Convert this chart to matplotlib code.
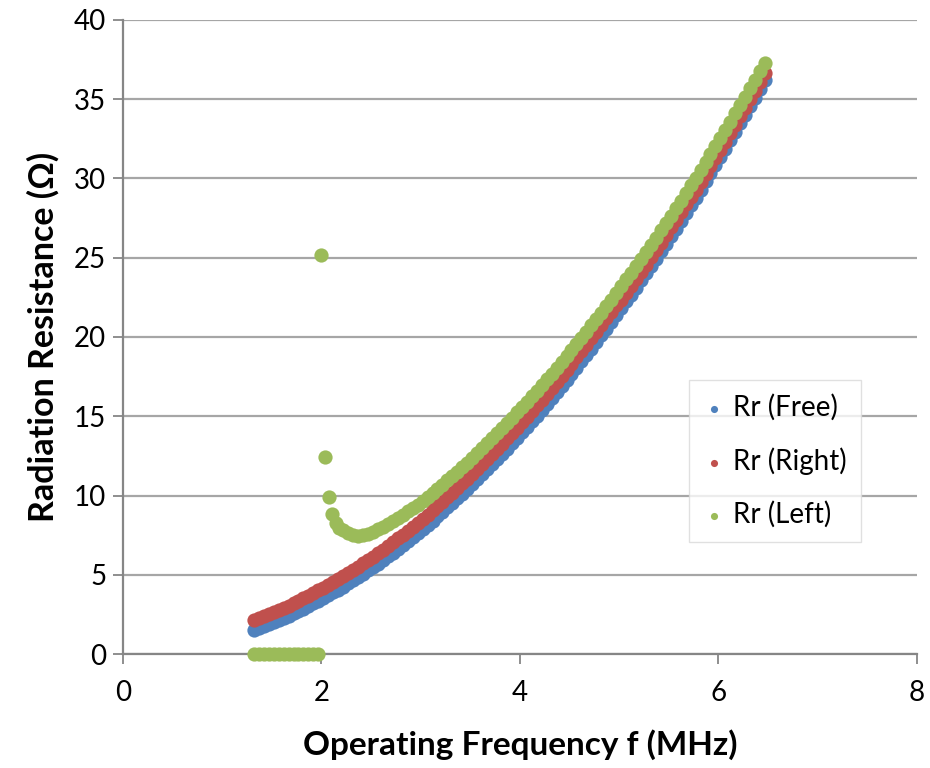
import numpy as np
import matplotlib
matplotlib.use("Agg")
import matplotlib.pyplot as plt

BLUE  = "#4F81BD"
RED   = "#C0504D"
GREEN = "#9BBB59"
GRID  = "#A6A6A6"
AXIS  = "#868686"
FONT  = "Lato"

# sampling grid of the sweep (MHz)
freq = np.round(np.arange(1.32, 6.48, 0.05), 2)

rr_free = [
    1.51, 1.62, 1.74, 1.87, 2.00, 2.13, 2.27, 2.41, 2.56, 2.71,
    2.87, 3.03, 3.19, 3.36, 3.53, 3.71, 3.89, 4.07, 4.26, 4.46,
    4.66, 4.86, 5.07, 5.28, 5.49, 5.71, 5.94, 6.17, 6.40, 6.64,
    6.88, 7.13, 7.38, 7.63, 7.89, 8.15, 8.42, 8.69, 8.97, 9.25,
    9.53, 9.82, 10.12, 10.42, 10.72, 11.02, 11.34, 11.65, 11.97, 12.29,
    12.62, 12.96, 13.29, 13.63, 13.98, 14.33, 14.68, 15.04, 15.40, 15.77,
    16.14, 16.52, 16.90, 17.28, 17.67, 18.07, 18.46, 18.87, 19.27, 19.68,
    20.10, 20.52, 20.94, 21.37, 21.80, 22.24, 22.68, 23.12, 23.57, 24.02,
    24.48, 24.94, 25.41, 25.88, 26.36, 26.84, 27.32, 27.81, 28.30, 28.80,
    29.30, 29.81, 30.32, 30.83, 31.35, 31.87, 32.40, 32.93, 33.47, 34.01,
    34.55, 35.10, 35.65, 36.21,
]

rr_right = [
    2.16, 2.27, 2.39, 2.52, 2.65, 2.78, 2.92, 3.06, 3.21, 3.36,
    3.52, 3.68, 3.84, 4.01, 4.18, 4.36, 4.54, 4.72, 4.91, 5.11,
    5.31, 5.51, 5.72, 5.93, 6.14, 6.36, 6.59, 6.82, 7.05, 7.29,
    7.53, 7.78, 8.03, 8.28, 8.54, 8.80, 9.07, 9.34, 9.62, 9.90,
    10.18, 10.47, 10.77, 11.07, 11.37, 11.67, 11.99, 12.30, 12.62, 12.94,
    13.27, 13.61, 13.94, 14.28, 14.63, 14.98, 15.33, 15.69, 16.05, 16.42,
    16.79, 17.17, 17.55, 17.93, 18.32, 18.72, 19.11, 19.52, 19.92, 20.33,
    20.75, 21.17, 21.59, 22.02, 22.35, 22.79, 23.23, 23.67, 24.12, 24.57,
    25.03, 25.49, 25.96, 26.43, 26.91, 27.39, 27.87, 28.36, 28.85, 29.25,
    29.75, 30.26, 30.77, 31.28, 31.80, 32.32, 32.85, 33.38, 33.92, 34.46,
    35.00, 35.55, 36.10, 36.66,
]

# Left: zero below ~2 MHz, spike near 2 MHz, then the normal branch
rr_left_zero = [0, 0, 0, 0, 0, 0, 0, 0, 0, 0, 0, 0, 0, 0]
f_left_jump  = [2.00, 2.035, 2.075, 2.11, 2.145, 2.18]
rr_left_jump = [25.2, 12.45, 9.93, 8.83, 8.24, 7.98]
rr_left = [
    7.80, 7.62, 7.52, 7.47, 7.48, 7.56, 7.68,
    7.86, 8.04, 8.22, 8.40, 8.59, 8.78, 9.00, 9.22, 9.43, 9.66,
    9.90, 10.15, 10.41, 10.68, 10.95, 11.22, 11.50, 11.79, 12.08, 12.37,
    12.67, 12.98, 13.29, 13.60, 13.92, 14.24, 14.58, 14.90, 15.24, 15.58,
    15.92, 16.26, 16.61, 16.96, 17.32, 17.68, 18.05, 18.42, 18.79, 19.17,
    19.56, 19.94, 20.34, 20.73, 21.13, 21.54, 21.95, 22.36, 22.78, 23.20,
    23.63, 24.06, 24.49, 24.93, 25.37, 25.82, 26.27, 26.73, 27.19, 27.66,
    28.13, 28.60, 29.08, 29.56, 30.05, 30.54, 31.04, 31.54, 32.04, 32.55,
    33.06, 33.58, 34.10, 34.63, 35.16, 35.69, 36.23, 36.77, 37.31,
]

f_left = np.concatenate([freq[:len(rr_left_zero)], f_left_jump,
                         freq[freq >= 2.2]])
rr_left_all = np.concatenate([rr_left_zero, rr_left_jump, rr_left])

fig = plt.figure(figsize=(9.3, 7.68), dpi=100)
fig.patch.set_facecolor("white")
ax = fig.add_axes([0.132, 0.1484, 0.854, 0.8256])

ms = 105
ax.scatter(freq, rr_free, s=ms, color=BLUE, linewidths=0, label="Rr (Free)", zorder=3)
ax.scatter(freq, rr_right, s=ms, color=RED, linewidths=0, label="Rr (Right)", zorder=4)
ax.scatter(f_left, rr_left_all, s=ms, color=GREEN, linewidths=0, label="Rr (Left)",
           zorder=5, clip_on=False)

ax.set_xlim(0, 8)
ax.set_ylim(0, 40)
ax.set_xticks([0, 2, 4, 6, 8])
ax.set_yticks(range(0, 41, 5))

ax.yaxis.grid(True, color=GRID, linewidth=1.6)
ax.set_axisbelow(True)
for side in ("top", "right"):
    ax.spines[side].set_visible(False)
for side in ("left", "bottom"):
    ax.spines[side].set_color(AXIS)
    ax.spines[side].set_linewidth(1.6)
ax.tick_params(direction="out", length=7, width=1.3, color=AXIS,
               labelsize=20, labelcolor="black")
ax.tick_params(axis="y", pad=5)
ax.tick_params(axis="x", pad=12)
for lab in ax.get_xticklabels() + ax.get_yticklabels():
    lab.set_family(FONT)

ax.set_xlabel("Operating Frequency f (MHz)", fontsize=24, fontweight="bold",
              family=FONT, va="center")
ax.set_ylabel("Radiation Resistance (Ω)", fontsize=24.5, fontweight="bold",
              family=FONT, va="center")
ax.xaxis.set_label_coords(0.5, -0.1435)
ax.yaxis.set_label_coords(-0.1, 0.5)

leg = ax.legend(loc="upper left", bbox_to_anchor=(0.713, 0.432), borderaxespad=0,
                frameon=True, fancybox=False, edgecolor="#D9D9D9",
                prop={"family": FONT, "size": 20}, markerscale=0.5,
                handletextpad=0.3, labelspacing=0.95, borderpad=0.5,
                handlelength=0.8)
leg.get_frame().set_linewidth(1.0)

fig.savefig("out.png", dpi=100, facecolor="white")
